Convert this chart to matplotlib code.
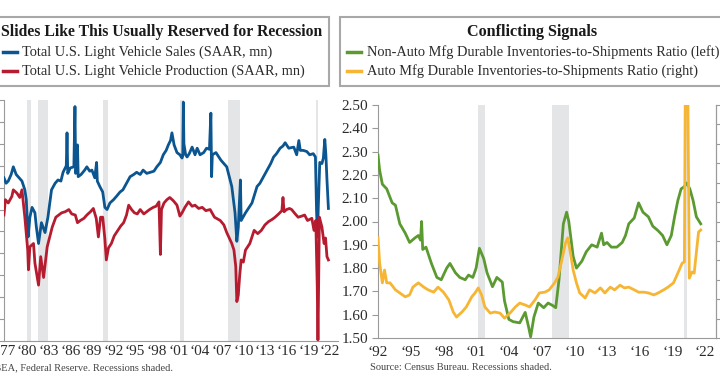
import matplotlib
matplotlib.use('Agg')
import matplotlib.pyplot as plt
from matplotlib.patches import Rectangle
from matplotlib.lines import Line2D

# ---- left panel: light vehicle sales / production (SAAR, mn) ----
sales_years = [1976.80, 1977.10, 1977.40, 1977.80, 1978.10, 1978.50, 1978.90, 1979.30, 1979.70, 1979.90,
               1980.15, 1980.40, 1980.70, 1981.10, 1981.30, 1981.60, 1982.00, 1982.50, 1982.90, 1983.40,
               1983.90, 1984.30, 1984.70, 1985.00, 1985.45, 1985.55, 1985.65, 1986.00, 1986.50, 1986.65,
               1986.75, 1986.90, 1987.00, 1987.10, 1987.50, 1988.00, 1988.30, 1988.70, 1989.00, 1989.40,
               1989.65, 1989.75, 1990.10, 1990.50, 1990.80, 1991.10, 1991.50, 1992.00, 1992.40, 1992.90,
               1993.30, 1993.80, 1994.30, 1994.80, 1995.20, 1995.70, 1996.10, 1996.60, 1997.10, 1997.60,
               1998.00, 1998.50, 1998.90, 1999.30, 1999.60, 1999.90, 2000.10, 2000.40, 2000.80, 2001.20,
               2001.50, 2001.60, 2001.68, 2001.76, 2002.00, 2002.20, 2002.50, 2002.90, 2003.30, 2003.60,
               2004.00, 2004.50, 2004.90, 2005.30, 2005.50, 2005.60, 2005.70, 2006.20, 2006.90, 2007.70,
               2008.40, 2008.85, 2009.10, 2009.30, 2009.60, 2009.70, 2010.30, 2011.20, 2011.90, 2012.30,
               2012.80, 2013.30, 2013.80, 2014.20, 2014.60, 2015.10, 2015.50, 2015.80, 2016.30, 2017.00,
               2017.40, 2017.70, 2017.90, 2018.30, 2018.80, 2019.20, 2019.70, 2020.00, 2020.15, 2020.28,
               2020.40, 2020.60, 2020.90, 2021.10, 2021.30, 2021.45, 2021.60, 2021.80]
sales_values = [14.9, 14.4, 14.6, 15.2, 15.9, 15.2, 14.9, 14.6, 13.8, 12.9,
                9.5, 11.3, 12.2, 11.7, 10.4, 8.9, 10.8, 9.9, 11.3, 13.8,
                14.4, 14.7, 14.6, 15.4, 16.0, 19.0, 15.3, 15.8, 15.9, 21.4,
                15.3, 16.0, 17.9, 15.0, 15.2, 15.6, 15.9, 15.5, 15.6, 14.9,
                16.3, 14.6, 14.1, 13.6, 12.2, 12.0, 12.6, 12.9, 13.2, 13.6,
                13.8, 14.4, 15.0, 15.2, 15.4, 15.2, 15.6, 15.3, 15.4, 15.5,
                15.9, 16.3, 17.0, 17.4, 17.9, 18.3, 19.0, 17.9, 17.2, 17.0,
                16.7, 16.9, 21.8, 18.0, 17.0, 16.8, 17.1, 17.7, 17.0, 17.6,
                17.0, 17.2, 17.6, 17.5, 20.8, 15.0, 17.0, 17.2, 16.5, 15.9,
                14.1, 11.7, 9.1, 10.4, 14.7, 11.0, 11.7, 12.6, 14.1, 14.4,
                15.0, 15.6, 16.2, 16.8, 17.1, 17.6, 17.8, 18.1, 17.6, 17.7,
                17.0, 18.3, 17.4, 17.4, 17.3, 17.0, 17.1, 16.8, 12.0, 9.5,
                12.3, 16.3, 16.2, 16.7, 18.4, 17.0, 14.7, 12.1]

prod_years = [1976.80, 1977.00, 1977.40, 1977.90, 1978.10, 1978.60, 1979.00, 1979.30, 1979.70, 1980.10,
              1980.20, 1980.40, 1980.90, 1981.10, 1981.60, 1981.90, 1982.30, 1982.80, 1983.50, 1984.00,
              1984.40, 1984.80, 1985.30, 1985.80, 1986.20, 1986.70, 1987.00, 1987.40, 1987.90, 1988.30,
              1988.80, 1989.20, 1989.60, 1989.90, 1990.20, 1990.50, 1990.80, 1991.00, 1991.30, 1991.70,
              1992.10, 1992.60, 1993.00, 1993.40, 1993.80, 1994.10, 1994.50, 1994.90, 1995.30, 1995.70,
              1996.20, 1996.60, 1997.00, 1997.50, 1997.90, 1998.30, 1998.50, 1998.65, 1999.00, 1999.40,
              1999.80, 2000.30, 2000.80, 2001.20, 2001.50, 2001.90, 2002.40, 2002.90, 2003.30, 2003.80,
              2004.30, 2004.80, 2005.40, 2006.00, 2006.80, 2007.30, 2007.70, 2008.40, 2008.70, 2008.95,
              2009.10, 2009.30, 2009.50, 2009.70, 2010.00, 2010.30, 2010.90, 2011.50, 2012.00, 2012.50,
              2013.00, 2013.50, 2014.00, 2014.40, 2014.90, 2015.35, 2015.50, 2015.65, 2016.00, 2016.40,
              2016.70, 2017.20, 2017.60, 2018.10, 2018.50, 2018.90, 2019.50, 2019.80, 2020.05, 2020.25,
              2020.35, 2020.45, 2020.55, 2020.90, 2021.20, 2021.40, 2021.60, 2021.80]
prod_values = [11.5, 12.9, 12.6, 13.2, 13.8, 13.5, 13.1, 13.8, 11.3, 8.3,
               6.5, 8.6, 8.9, 7.1, 5.1, 7.7, 5.8, 8.6, 10.4, 11.3,
               11.5, 11.7, 11.8, 12.0, 11.6, 11.5, 10.8, 11.0, 11.2, 11.5,
               11.8, 12.1, 11.2, 9.5, 11.3, 11.3, 9.3, 7.4, 8.5, 8.9,
               9.6, 10.1, 10.5, 10.8, 11.5, 12.4, 12.0, 11.7, 11.6, 12.0,
               11.6, 11.8, 12.0, 12.2, 12.3, 12.7, 7.9, 12.0, 12.6, 12.9,
               13.1, 12.8, 12.4, 11.4, 11.7, 12.2, 12.7, 12.3, 12.4, 12.1,
               12.2, 11.9, 12.0, 11.3, 11.0, 10.6, 9.9, 8.9, 8.3, 6.8,
               3.6, 4.2, 6.0, 7.4, 7.2, 8.3, 8.9, 10.1, 9.8, 10.1,
               10.6, 10.9, 11.1, 11.3, 11.6, 11.9, 13.1, 11.8, 12.0, 12.1,
               12.0, 11.6, 11.3, 11.4, 11.5, 11.0, 11.2, 10.1, 11.0, 5.0,
               0.1, 5.5, 11.3, 10.4, 8.9, 9.4, 7.7, 7.4]

# ---- right panel: inventories-to-shipments ratios ----
nonauto_years = [1992.00, 1992.15, 1992.40, 1992.80, 1993.30, 1993.60, 1994.00, 1994.50, 1994.90, 1995.40,
                 1995.70, 1995.90, 1996.00, 1996.10, 1996.40, 1996.90, 1997.40, 1997.80, 1998.30, 1998.60,
                 1999.10, 1999.50, 2000.00, 2000.30, 2000.70, 2001.00, 2001.30, 2001.70, 2002.00, 2002.50,
                 2002.90, 2003.40, 2003.60, 2004.00, 2004.40, 2005.00, 2005.50, 2005.80, 2006.00, 2006.30,
                 2006.70, 2007.20, 2007.60, 2008.00, 2008.30, 2008.60, 2009.00, 2009.30, 2009.50, 2009.90,
                 2010.20, 2010.70, 2011.10, 2011.60, 2012.10, 2012.50, 2012.70, 2013.00, 2013.40, 2013.90,
                 2014.40, 2014.70, 2015.00, 2015.50, 2015.90, 2016.30, 2016.80, 2017.20, 2017.70, 2018.10,
                 2018.50, 2018.90, 2019.20, 2019.50, 2019.80, 2020.10, 2020.30, 2020.60, 2020.90, 2021.20,
                 2021.60]
nonauto_values = [2.285, 2.22, 2.16, 2.14, 2.08, 2.07, 1.99, 1.95, 1.91, 1.93,
                  1.94, 1.92, 2.00, 1.88, 1.89, 1.82, 1.76, 1.75, 1.80, 1.82,
                  1.78, 1.76, 1.75, 1.77, 1.76, 1.80, 1.885, 1.84, 1.78, 1.72,
                  1.76, 1.74, 1.66, 1.58, 1.57, 1.565, 1.61, 1.55, 1.505, 1.59,
                  1.65, 1.63, 1.65, 1.64, 1.63, 1.75, 1.99, 2.04, 2.00, 1.85,
                  1.80, 1.83, 1.87, 1.90, 1.89, 1.95, 1.90, 1.91, 1.89, 1.89,
                  1.91, 1.94, 1.99, 2.015, 2.08, 2.04, 2.02, 1.98, 1.96, 1.94,
                  1.90, 1.94, 2.02, 2.09, 2.14, 2.15, 2.165, 2.14, 2.09, 2.02,
                  1.99]

auto_years = [1992.00, 1992.15, 1992.40, 1992.60, 1992.80, 1993.10, 1993.60, 1994.00, 1994.50, 1994.90,
              1995.20, 1995.70, 1996.20, 1996.60, 1997.10, 1997.50, 1998.00, 1998.50, 1998.90, 1999.20,
              1999.70, 2000.10, 2000.60, 2000.90, 2001.20, 2001.50, 2001.80, 2002.30, 2002.70, 2003.20,
              2003.60, 2004.10, 2004.60, 2005.00, 2005.50, 2005.90, 2006.40, 2006.80, 2007.30, 2007.70,
              2008.20, 2008.50, 2008.80, 2009.20, 2009.40, 2009.60, 2009.90, 2010.20, 2010.50, 2011.00,
              2011.40, 2011.90, 2012.40, 2012.80, 2013.30, 2013.70, 2014.20, 2014.60, 2015.00, 2015.50,
              2015.90, 2016.40, 2016.80, 2017.30, 2017.70, 2018.20, 2018.60, 2019.10, 2019.50, 2019.90,
              2020.10, 2020.25, 2020.40, 2020.55, 2020.80, 2021.00, 2021.25, 2021.40, 2021.60]
auto_values = [0.658, 0.593, 0.542, 0.575, 0.542, 0.542, 0.524, 0.516, 0.506, 0.511,
               0.531, 0.542, 0.531, 0.524, 0.518, 0.531, 0.518, 0.498, 0.467, 0.454,
               0.467, 0.480, 0.506, 0.516, 0.529, 0.511, 0.480, 0.464, 0.467, 0.464,
               0.451, 0.464, 0.480, 0.490, 0.485, 0.480, 0.498, 0.516, 0.518, 0.524,
               0.542, 0.557, 0.593, 0.645, 0.658, 0.627, 0.575, 0.542, 0.516, 0.503,
               0.524, 0.516, 0.529, 0.516, 0.531, 0.524, 0.536, 0.529, 0.531, 0.524,
               0.518, 0.518, 0.516, 0.511, 0.516, 0.524, 0.531, 0.542, 0.567, 0.593,
               0.596, 1.40, 1.10, 0.554, 0.570, 0.567, 0.634, 0.673, 0.678]

recessions = [(1980.00, 1980.50), (1981.50, 1982.87), (1990.50, 1991.17), (2001.17, 2001.83),
              (2007.92, 2009.50), (2020.08, 2020.33)]

left_xticks = list(range(1977, 2023, 3))
right_xticks = list(range(1992, 2023, 3))

BLUE = '#0b5590'
RED = '#b51c30'
GREEN = '#5b9a31'
ORANGE = '#f6b633'
SHADE = '#e4e5e7'
SPINE = '#9a9a9a'
TXT = '#2b2b2b'
W, H = 720, 380

plt.rcParams['font.family'] = ['Liberation Serif', 'DejaVu Serif']


def fx(px):
    return px / W


def fy(py):
    return 1 - py / H


fig = plt.figure(figsize=(7.2, 3.8), dpi=100)
fig.patch.set_facecolor('white')

# left chart
ax1 = fig.add_axes([fx(4), fy(341), fx(334), (341 - 100) / H])
for a, b in recessions:
    ax1.axvspan(a, b, color=SHADE, lw=0, zorder=0)
ax1.plot(sales_years, sales_values, color=BLUE, lw=2.0, zorder=3)
ax1.plot(prod_years, prod_values, color=RED, lw=2.0, zorder=4)
ax1.set_xlim(1976.81, 2023.13)
ax1.set_ylim(0, 22)
ax1.set_yticks(range(0, 23, 2))
ax1.set_xticks(left_xticks)
ax1.set_xticklabels(['\u2018' + str(y)[2:] for y in left_xticks])
ax1.tick_params(axis='y', direction='out', length=4, color=SPINE, labelleft=False)
ax1.tick_params(axis='x', length=0, pad=3, labelsize=11, labelcolor=TXT)
for s in ['top', 'right']:
    ax1.spines[s].set_visible(False)
for s in ['left', 'bottom']:
    ax1.spines[s].set_color(SPINE)

# right chart (green on left axis, orange on twin right axis drawn on top)
ax2 = fig.add_axes([fx(378), fy(338), fx(338), (338 - 105) / H])
for a, b in recessions[3:]:
    ax2.axvspan(a, b, color=SHADE, lw=0, zorder=0)
ax2.plot(nonauto_years, nonauto_values, color=GREEN, lw=2.0, zorder=3)
ax2.set_xlim(1992.0, 2023.0)
ax2.set_ylim(1.5, 2.5)
ax2.set_yticks([1.5 + 0.1 * i for i in range(11)])
ax2.set_yticklabels(['%.2f' % (1.5 + 0.1 * i) for i in range(11)])
ax2.set_xticks(right_xticks)
ax2.set_xticklabels(['\u2018' + str(y)[2:] for y in right_xticks])
ax2.tick_params(axis='y', direction='out', length=4, color=SPINE, labelsize=11, labelcolor=TXT, pad=3)
ax2.tick_params(axis='x', length=0, pad=6, labelsize=11, labelcolor=TXT)
ax2.spines['top'].set_visible(False)
for s in ['left', 'bottom', 'right']:
    ax2.spines[s].set_color(SPINE)

ax3 = ax2.twinx()
ax3.plot(auto_years, auto_values, color=ORANGE, lw=2.0, zorder=3)
ax3.set_ylim(0.40, 1.00)
ax3.set_yticks([0.40 + 0.05 * i for i in range(13)])
ax3.tick_params(axis='y', direction='out', length=4, color=SPINE, labelright=False)
ax3.spines['top'].set_visible(False)
ax3.spines['right'].set_color(SPINE)
ax3.spines['left'].set_visible(False)
ax3.spines['bottom'].set_visible(False)

# header boxes
fig.add_artist(Rectangle((fx(-20), fy(86)), fx(349), (86 - 17) / H, transform=fig.transFigure,
                         facecolor='white', edgecolor='#a8a8a8', lw=1.5))
fig.add_artist(Rectangle((fx(340), fy(86)), fx(400), (86 - 17) / H, transform=fig.transFigure,
                         facecolor='white', edgecolor='#a8a8a8', lw=1.5))

fig.text(fx(162), fy(32), 'Slides Like This Usually Reserved for Recession', ha='center', va='center',
         fontsize=11.3, fontweight='bold', color='#1a1a1a')
fig.add_artist(Line2D([fx(3), fx(17)], [fy(52), fy(52)], transform=fig.transFigure, color=BLUE, lw=2.5))
fig.text(fx(22), fy(52), 'Total U.S. Light Vehicle Sales (SAAR, mn)', ha='left', va='center',
         fontsize=10.4, color=TXT)
fig.add_artist(Line2D([fx(3), fx(17)], [fy(71), fy(71)], transform=fig.transFigure, color=RED, lw=2.5))
fig.text(fx(22), fy(71), 'Total U.S. Light Vehicle Production (SAAR, mn)', ha='left', va='center',
         fontsize=10.4, color=TXT)

fig.text(fx(532), fy(32), 'Conflicting Signals', ha='center', va='center',
         fontsize=11.6, fontweight='bold', color='#1a1a1a')
fig.add_artist(Line2D([fx(347), fx(361)], [fy(52), fy(52)], transform=fig.transFigure, color=GREEN, lw=2.5))
fig.text(fx(367), fy(52), 'Non-Auto Mfg Durable Inventories-to-Shipments Ratio (left)', ha='left',
         va='center', fontsize=10.4, color=TXT)
fig.add_artist(Line2D([fx(347), fx(361)], [fy(71), fy(71)], transform=fig.transFigure, color=ORANGE, lw=2.5))
fig.text(fx(367), fy(71), 'Auto Mfg Durable Inventories-to-Shipments Ratio (right)', ha='left',
         va='center', fontsize=10.4, color=TXT)

# sources
fig.text(fx(173), fy(368), 'Source: BEA, Federal Reserve. Recessions shaded.', ha='right', va='center',
         fontsize=7.5, color='#444444')
fig.text(fx(370), fy(368), 'Source: Census Bureau. Recessions shaded.', ha='left', va='center',
         fontsize=7.5, color='#444444')

fig.savefig('out.png', dpi=100, facecolor='white')
